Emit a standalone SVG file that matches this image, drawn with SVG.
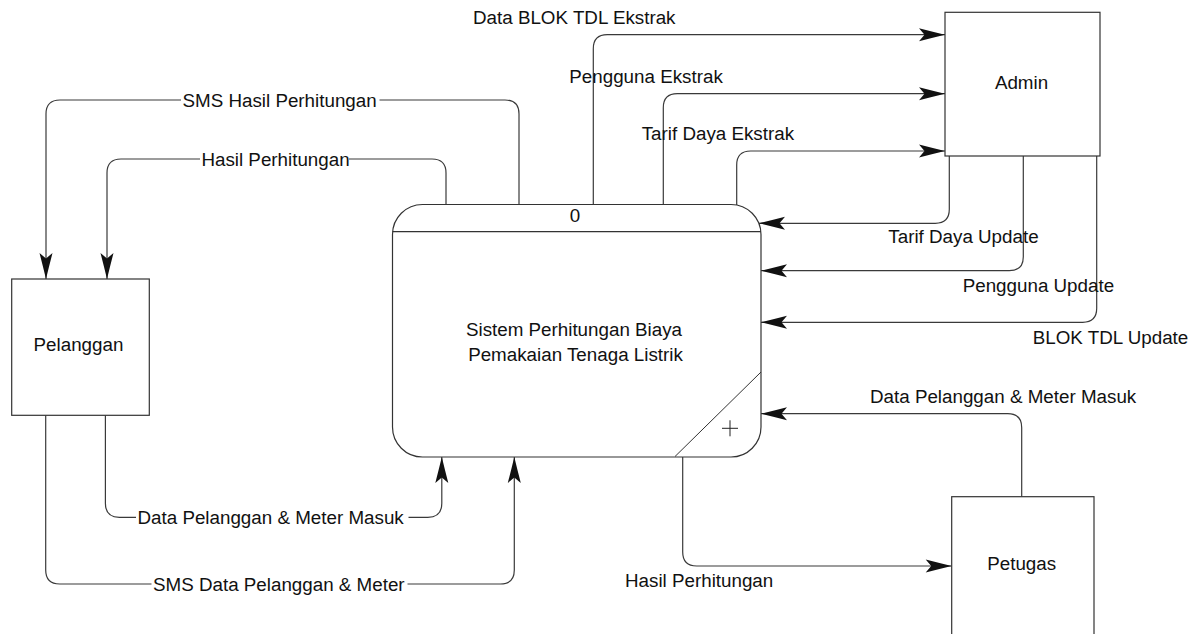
<svg xmlns="http://www.w3.org/2000/svg" width="1203" height="634" viewBox="0 0 1203 634">
  <style>
    .box { fill: #ffffff; stroke: #333333; stroke-width: 1.2; }
    .flow { fill: none; stroke: #3a3a3a; stroke-width: 1.2; marker-end: url(#head); }
    .txt { font-family: "Liberation Sans", Arial, sans-serif; font-size: 18.8px; fill: #111111; }
    .mid { text-anchor: middle; }
    .bg { fill: #ffffff; }
  </style>
  <defs>
    <marker id="head" markerUnits="userSpaceOnUse" markerWidth="27" markerHeight="14" refX="26" refY="6.5" orient="auto" overflow="visible">
      <path d="M26,6.5 Q14,3.6 0,0 L5.5,6.5 L0,13 Q14,9.4 26,6.5 Z" fill="#111111"/>
    </marker>
  </defs>

  <rect width="1203" height="634" fill="#ffffff"/>

  <!-- data flows -->
  <g id="connectors">
    <path class="flow" d="M519,204.5 V114 Q519,100 505,100 H60 Q46,100 46,114 V279"/>
    <path class="flow" d="M446,204.5 V173 Q446,159 432,159 H121 Q107,159 107,173 V279"/>
    <path class="flow" d="M593.3,204.5 V48.7 Q593.3,34.7 607.3,34.7 H945"/>
    <path class="flow" d="M663.3,204.5 V107.7 Q663.3,93.7 677.3,93.7 H945"/>
    <path class="flow" d="M736.7,205 V165 Q736.7,151 750.7,151 H945"/>
    <path class="flow" d="M949.3,156 V209.3 Q949.3,223.3 935.3,223.3 H759"/>
    <path class="flow" d="M1023.3,156 V256.7 Q1023.3,270.7 1009.3,270.7 H761"/>
    <path class="flow" d="M1096.7,156 V308.3 Q1096.7,322.3 1082.7,322.3 H761"/>
    <path class="flow" d="M1021.7,496.7 V427.7 Q1021.7,413.7 1007.7,413.7 H761"/>
    <path class="flow" d="M682.7,457 V552 Q682.7,566 696.7,566 H951.7"/>
    <path class="flow" d="M105.4,415.3 V503.3 Q105.4,517.3 119.4,517.3 H427.8 Q441.8,517.3 441.8,503.3 V457"/>
    <path class="flow" d="M45.7,415.3 V570 Q45.7,584 59.7,584 H500.3 Q514.3,584 514.3,570 V457"/>
  </g>

  <!-- flow labels -->
  <g id="flow-labels">
    <rect class="bg" x="181" y="90" width="198.5" height="20"/>
    <text class="txt" x="182.5" y="106.5">SMS Hasil Perhitungan</text>
    <rect class="bg" x="200" y="149" width="149" height="20"/>
    <text class="txt" x="201.4" y="165.5">Hasil Perhitungan</text>
    <rect class="bg" x="136" y="507" width="272.5" height="20"/>
    <text class="txt" x="137.5" y="523.8">Data Pelanggan &amp; Meter Masuk</text>
    <rect class="bg" x="151.5" y="574" width="256" height="20"/>
    <text class="txt" x="153" y="590.5">SMS Data Pelanggan &amp; Meter</text>
    <text class="txt" x="473" y="24">Data BLOK TDL Ekstrak</text>
    <text class="txt" x="569.3" y="83.3">Pengguna Ekstrak</text>
    <text class="txt" x="641.7" y="140.3">Tarif Daya Ekstrak</text>
    <text class="txt" x="888.3" y="243.3">Tarif Daya Update</text>
    <text class="txt" x="962.7" y="291.7">Pengguna Update</text>
    <text class="txt" x="1032.7" y="344">BLOK TDL Update</text>
    <text class="txt" x="870" y="403.3">Data Pelanggan &amp; Meter Masuk</text>
    <text class="txt" x="625" y="586.7">Hasil Perhitungan</text>
  </g>

  <!-- process 0 -->
  <g id="process-0">
    <rect class="box" x="392.5" y="204.5" width="368.5" height="252.5" rx="30" ry="30"/>
    <line x1="392.5" y1="231.7" x2="761" y2="231.7" stroke="#333333" stroke-width="1.2"/>
    <line x1="761" y1="372" x2="675" y2="456.5" stroke="#333333" stroke-width="1"/>
    <path d="M722,428.3 H738 M730,420.3 V436.3" stroke="#222222" stroke-width="1" fill="none"/>
    <text class="txt mid" x="575" y="222.3">0</text>
    <text class="txt mid" x="574" y="335.7">Sistem Perhitungan Biaya</text>
    <text class="txt mid" x="575.5" y="360.7">Pemakaian Tenaga Listrik</text>
  </g>

  <!-- external entities -->
  <g id="pelanggan">
    <rect class="box" x="11.7" y="279" width="137.6" height="136.3"/>
    <text class="txt mid" x="78.5" y="351">Pelanggan</text>
  </g>
  <g id="admin">
    <rect class="box" x="945" y="12.3" width="155" height="143.7"/>
    <text class="txt mid" x="1021.5" y="89">Admin</text>
  </g>
  <g id="petugas">
    <rect class="box" x="951.7" y="496.7" width="142.3" height="150"/>
    <text class="txt mid" x="1021.7" y="570">Petugas</text>
  </g>
</svg>
